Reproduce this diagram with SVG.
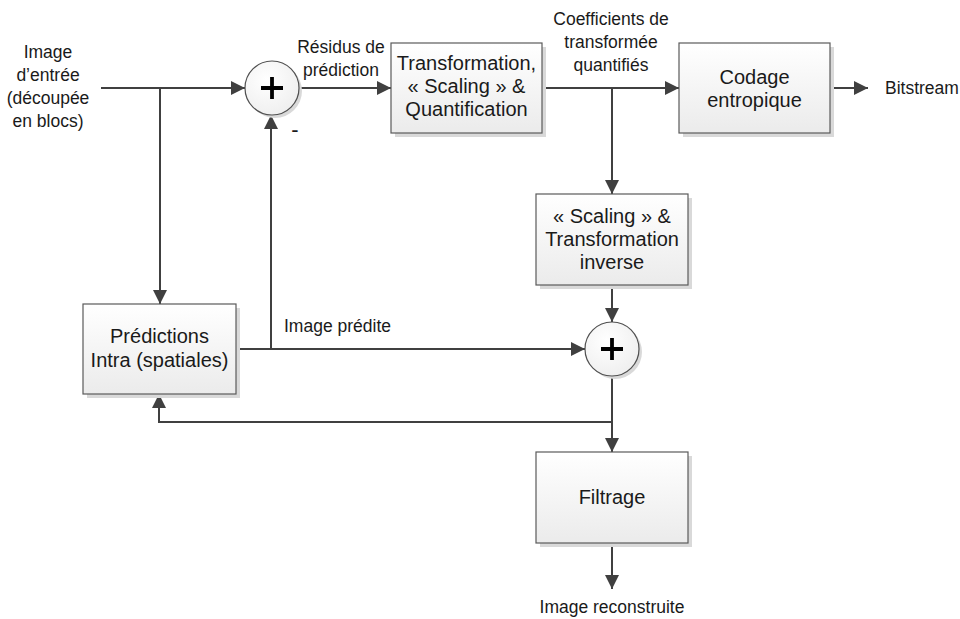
<svg xmlns="http://www.w3.org/2000/svg" width="960" height="619" viewBox="0 0 960 619">
  <defs>
    <linearGradient id="boxFill" x1="0" y1="0" x2="0" y2="1">
      <stop offset="0" stop-color="#ffffff"/>
      <stop offset="1" stop-color="#ebebeb"/>
    </linearGradient>
    <radialGradient id="circFill" cx="0.4" cy="0.35" r="0.75">
      <stop offset="0" stop-color="#ffffff"/>
      <stop offset="1" stop-color="#ededed"/>
    </radialGradient>
    <marker id="arrow" markerUnits="userSpaceOnUse" markerWidth="16" markerHeight="14" refX="14" refY="7" orient="auto">
      <path d="M0,0 L14,7 L0,14 Z" fill="#404040"/>
    </marker>
  </defs>
  <style>
    .box { fill: url(#boxFill); stroke: #5a5a5a; stroke-width: 1.2; }
    .shadow { fill: #d9d9d9; }
    .circ { fill: url(#circFill); stroke: #505050; stroke-width: 1.2; }
    .plus { stroke: #000000; stroke-width: 3.8; fill: none; }
    .conn { stroke: #404040; stroke-width: 2; fill: none; }
    .arr { marker-end: url(#arrow); }
    .big { font-family: "Liberation Sans", Arial, sans-serif; font-size: 20px; fill: #1a1a1a; text-anchor: middle; }
    .lbl { font-family: "Liberation Sans", Arial, sans-serif; font-size: 17.5px; fill: #1a1a1a; text-anchor: middle; }
  </style>
  <rect width="960" height="619" fill="#ffffff"/>

  <g id="connectors">
    <line class="conn arr" x1="101" y1="88" x2="245" y2="88"/>
    <line class="conn arr" x1="160" y1="88" x2="160" y2="304"/>
    <line class="conn arr" x1="299" y1="88" x2="391" y2="88"/>
    <line class="conn arr" x1="542" y1="88" x2="679" y2="88"/>
    <line class="conn arr" x1="612" y1="88" x2="612" y2="194"/>
    <line class="conn arr" x1="830" y1="88" x2="868" y2="88"/>
    <line class="conn arr" x1="612" y1="285" x2="612" y2="322"/>
    <line class="conn arr" x1="236" y1="349" x2="585" y2="349"/>
    <line class="conn arr" x1="271" y1="349" x2="271" y2="115"/>
    <line class="conn arr" x1="612" y1="376" x2="612" y2="452"/>
    <polyline class="conn arr" points="612,422 159,422 159,394"/>
    <line class="conn arr" x1="612" y1="543" x2="612" y2="589"/>
  </g>

  <g id="label-input">
    <text class="lbl" x="48" y="58">Image</text>
    <text class="lbl" x="48" y="81">d’entrée</text>
    <text class="lbl" x="48" y="104">(découpée</text>
    <text class="lbl" x="48" y="127">en blocs)</text>
  </g>
  <g id="label-residus">
    <text class="lbl" x="341" y="53">Résidus de</text>
    <text class="lbl" x="341" y="76">prédiction</text>
  </g>
  <g id="label-coeffs">
    <text class="lbl" x="611" y="25">Coefficients de</text>
    <text class="lbl" x="611" y="48">transformée</text>
    <text class="lbl" x="611" y="71">quantifiés</text>
  </g>
  <g id="label-bitstream">
    <text class="lbl" x="885" y="94" style="text-anchor:start">Bitstream</text>
  </g>
  <g id="label-minus">
    <text class="lbl" x="295" y="137" style="font-size:22px">-</text>
  </g>
  <g id="label-image-predite">
    <text class="lbl" x="284" y="332" style="text-anchor:start">Image prédite</text>
  </g>
  <g id="label-reconstruite">
    <text class="lbl" x="612" y="613">Image reconstruite</text>
  </g>

  <g id="sum1">
    <circle class="shadow" cx="275" cy="91" r="27"/>
    <circle class="circ" cx="272" cy="88" r="27"/>
    <path class="plus" d="M261,88 H283 M272,77 V99"/>
  </g>
  <g id="sum2">
    <circle class="shadow" cx="615" cy="352" r="27"/>
    <circle class="circ" cx="612" cy="349" r="27"/>
    <path class="plus" d="M601,349 H623 M612,338 V360"/>
  </g>

  <g id="transformation">
    <rect class="shadow" x="395" y="47" width="151" height="90"/>
    <rect class="box" x="391" y="43" width="151" height="90"/>
    <text class="big" x="466.5" y="70">Transformation,</text>
    <text class="big" x="466.5" y="93">« Scaling » &amp;</text>
    <text class="big" x="466.5" y="116">Quantification</text>
  </g>
  <g id="codage">
    <rect class="shadow" x="683" y="47" width="151" height="90"/>
    <rect class="box" x="679" y="43" width="151" height="90"/>
    <text class="big" x="754.5" y="84">Codage</text>
    <text class="big" x="754.5" y="107">entropique</text>
  </g>
  <g id="scaling-inverse">
    <rect class="shadow" x="540" y="198" width="152" height="91"/>
    <rect class="box" x="536" y="194" width="152" height="91"/>
    <text class="big" x="612" y="223">« Scaling » &amp;</text>
    <text class="big" x="612" y="246">Transformation</text>
    <text class="big" x="612" y="269">inverse</text>
  </g>
  <g id="predictions">
    <rect class="shadow" x="87" y="308" width="153" height="90"/>
    <rect class="box" x="83" y="304" width="153" height="90"/>
    <text class="big" x="159.5" y="343">Prédictions</text>
    <text class="big" x="159.5" y="367">Intra (spatiales)</text>
  </g>
  <g id="filtrage">
    <rect class="shadow" x="540" y="456" width="152" height="91"/>
    <rect class="box" x="536" y="452" width="152" height="91"/>
    <text class="big" x="612" y="504">Filtrage</text>
  </g>
</svg>
